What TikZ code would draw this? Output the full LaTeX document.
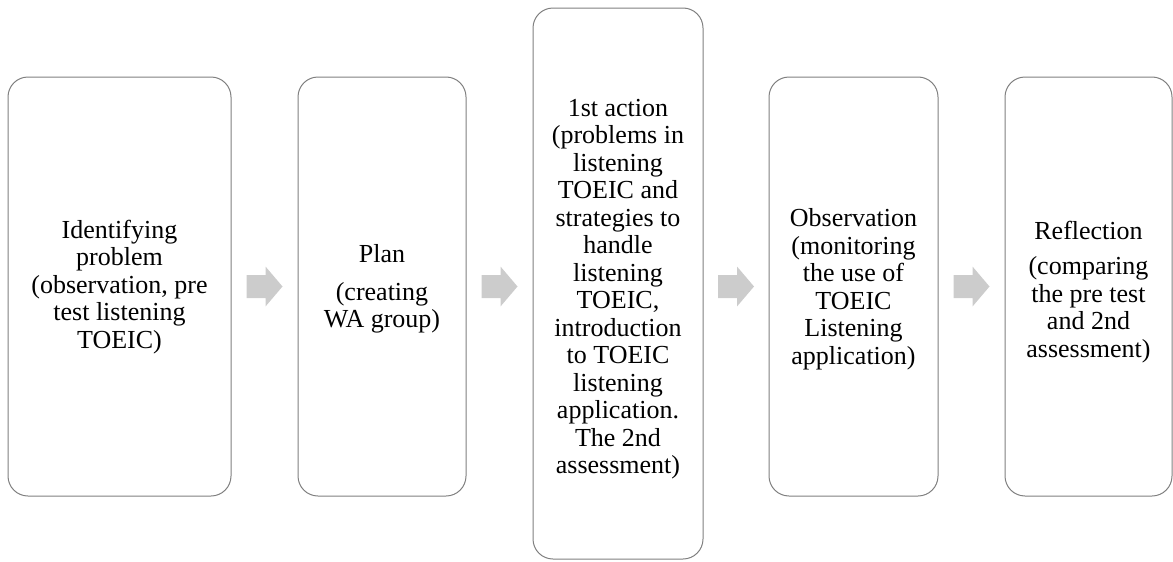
\documentclass[tikz,border=0pt]{standalone}
\usepackage{fontspec}
\setmainfont{Liberation Serif}
\usetikzlibrary{calc}
\begin{document}
\begin{tikzpicture}[x=1pt,y=-1pt,
  stagebox/.style={draw=black!50, line width=1pt, rounded corners=20pt, fill=white, inner sep=0pt},
  stagetext/.style={align=center, inner sep=0pt, font=\fontsize{26}{27.5}\selectfont},
  blockarrow/.pic={\fill[black!20] (-18,-11.5) -- (1,-11.5) -- (1,-20) -- (18,0) -- (1,20) -- (1,11.5) -- (-18,11.5) -- cycle;}
]
\useasboundingbox (0,0) rectangle (1173,562);
% boxes
\node[stagebox, minimum width=223pt, minimum height=419pt] (b1) at (119.5,286.5) {};
\node[stagebox, minimum width=168pt, minimum height=419pt] (b2) at (382,286.5) {};
\node[stagebox, minimum width=170pt, minimum height=551pt] (b3) at (618,283.5) {};
\node[stagebox, minimum width=169pt, minimum height=419pt] (b4) at (853.5,286.5) {};
\node[stagebox, minimum width=167pt, minimum height=419pt] (b5) at (1088.5,286.5) {};
% texts
\node[stagetext] (t1) at (119.5,287) {Identifying\\problem\\(observation, pre\\test listening\\TOEIC)};
\node[stagetext] (t2) at (382,289) {Plan\\[10pt](creating\\WA group)};
\node[stagetext] (t3) at (618,289) {1st action\\(problems in\\listening\\TOEIC and\\strategies to\\handle\\listening\\TOEIC,\\introduction\\to TOEIC\\listening\\application.\\The 2nd\\assessment)};
\node[stagetext] (t4) at (853.5,289) {Observation\\(monitoring\\the use of\\TOEIC\\Listening\\application)};
\node[stagetext] (t5) at (1088.5,292) {Reflection\\[8pt](comparing\\the pre test\\and 2nd\\assessment)};
% arrows
\pic at ($(b1.east)!0.5!(b2.west)$) {blockarrow};
\pic at ($(b2.east)!0.5!(b3.west |- b2.west)$) {blockarrow};
\pic at ($(b3.east |- b4.west)!0.5!(b4.west)$) {blockarrow};
\pic at ($(b4.east)!0.5!(b5.west)$) {blockarrow};
\end{tikzpicture}
\end{document}
